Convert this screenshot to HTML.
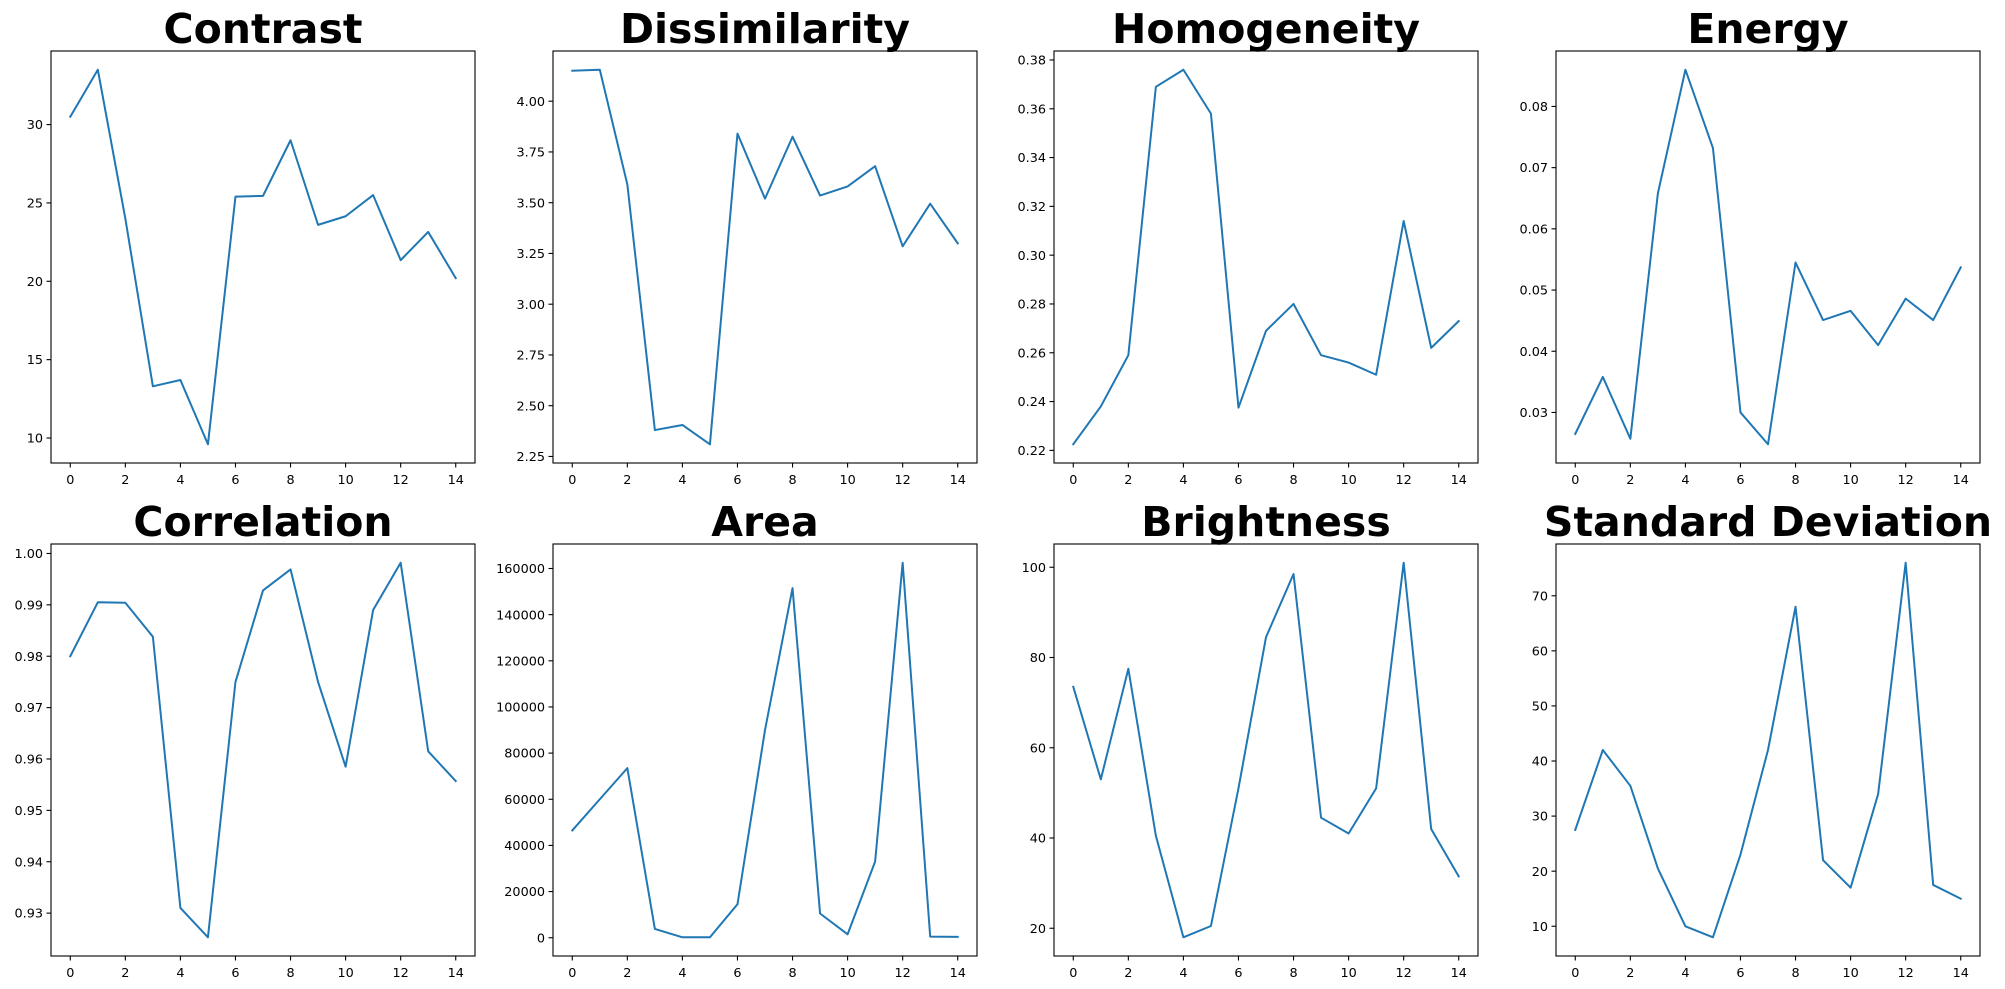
<!DOCTYPE html>
<html><head><meta charset="utf-8"><style>
html,body{margin:0;padding:0;background:#fff;width:2005px;height:989px;overflow:hidden}
svg text{font-family:"DejaVu Sans","Liberation Sans",sans-serif}
</style></head><body>
<svg id="fig" width="2005" height="989" xmlns="http://www.w3.org/2000/svg"></svg>
<script>
const xValues = [0,1,2,3,4,5,6,7,8,9,10,11,12,13,14];
const xTicks = [0,2,4,6,8,10,12,14];
const titles = ["Contrast","Dissimilarity","Homogeneity","Energy","Correlation","Area","Brightness","Standard Deviation"];
const contrast = [30.5,33.5,24,13.3,13.7,9.6,25.4,25.45,29,23.6,24.15,25.5,21.35,23.15,20.2];
const dissimilarity = [4.15,4.155,3.59,2.38,2.405,2.31,3.84,3.52,3.825,3.535,3.58,3.68,3.285,3.495,3.30];
const homogeneity = [0.2225,0.238,0.259,0.369,0.376,0.358,0.2375,0.269,0.280,0.259,0.256,0.251,0.314,0.262,0.273];
const energy = [0.0265,0.0358,0.0257,0.0658,0.086,0.0732,0.030,0.0248,0.0545,0.0451,0.0466,0.0410,0.0486,0.0451,0.0537];
const correlation = [0.980,0.9905,0.9904,0.9838,0.931,0.9253,0.975,0.9928,0.9969,0.975,0.9585,0.989,0.9982,0.9615,0.9557];
const area = [46500,60000,73500,3800,200,200,14500,90000,151500,10500,1500,33000,162500,500,400];
const brightness = [73.5,53,77.5,40.5,18,20.5,51,84.5,98.5,44.5,41,51,101,42,31.5];
const stdDev = [27.5,42,35.5,20.5,10,8,23,42,68,22,17,34,76,17.5,15];
const yTicks = [
 ["10","15","20","25","30"],
 ["2.25","2.50","2.75","3.00","3.25","3.50","3.75","4.00"],
 ["0.22","0.24","0.26","0.28","0.30","0.32","0.34","0.36","0.38"],
 ["0.03","0.04","0.05","0.06","0.07","0.08"],
 ["0.93","0.94","0.95","0.96","0.97","0.98","0.99","1.00"],
 ["0","20000","40000","60000","80000","100000","120000","140000","160000"],
 ["20","40","60","80","100"],
 ["10","20","30","40","50","60","70"]
];
const series = [contrast,dissimilarity,homogeneity,energy,correlation,area,brightness,stdDev];
const NS="http://www.w3.org/2000/svg";
const svg=document.getElementById('fig');
function mk(tag,attrs,parent){const e=document.createElementNS(NS,tag);for(const k in attrs)e.setAttribute(k,attrs[k]);(parent||svg).appendChild(e);return e;}
const W=424,H=412,lefts=[51,553,1054,1556],tops=[51,544];
const slugs=["contrast","dissimilarity","homogeneity","energy","correlation","area","brightness","standard-deviation"];
series.forEach((data,i)=>{
 const L=lefts[i%4],T=tops[Math.floor(i/4)];
 const g=mk('g',{});
 
 
 const xmin=-0.7,xmax=14.7;
 const dmin=Math.min(...data),dmax=Math.max(...data),pad=(dmax-dmin)*0.05;
 const ymin=dmin-pad,ymax=dmax+pad;
 const X=v=>L+(v-xmin)/(xmax-xmin)*W;
 const Y=v=>T+H-(v-ymin)/(ymax-ymin)*H;
 const t=mk('text',{x:L+W/2,y:T-8,'text-anchor':'middle','font-size':41,'font-weight':'bold',fill:'#000'},g);
 t.textContent=titles[i];
 
 
 const pts=data.map((v,j)=>X(xValues[j]).toFixed(2)+','+Y(v).toFixed(2)).join(' ');
 const line=mk('polyline',{points:pts,fill:'none',stroke:'#1f77b4','stroke-width':2,'stroke-linejoin':'round','stroke-linecap':'square'},g);
 
 
 const frame=mk('rect',{x:L,y:T,width:W,height:H,fill:'none',stroke:'#000','stroke-width':1.1},g);
 
 
 xTicks.forEach(v=>{const x=X(v);
  mk('line',{x1:x,x2:x,y1:T+H,y2:T+H+4.5,stroke:'#000','stroke-width':1.1},g);
  const tx=mk('text',{x:x,y:T+H+21,'text-anchor':'middle','font-size':12.8,fill:'#000'},g);
  tx.textContent=v;
  
  
 });
 yTicks[i].forEach(s=>{const y=Y(parseFloat(s));
  mk('line',{x1:L-4.5,x2:L,y1:y,y2:y,stroke:'#000','stroke-width':1.1},g);
  const ty=mk('text',{x:L-8,y:y+4.6,'text-anchor':'end','font-size':12.8,fill:'#000'},g);
  ty.textContent=s;
  
  
 });
});
</script>
</body></html>
